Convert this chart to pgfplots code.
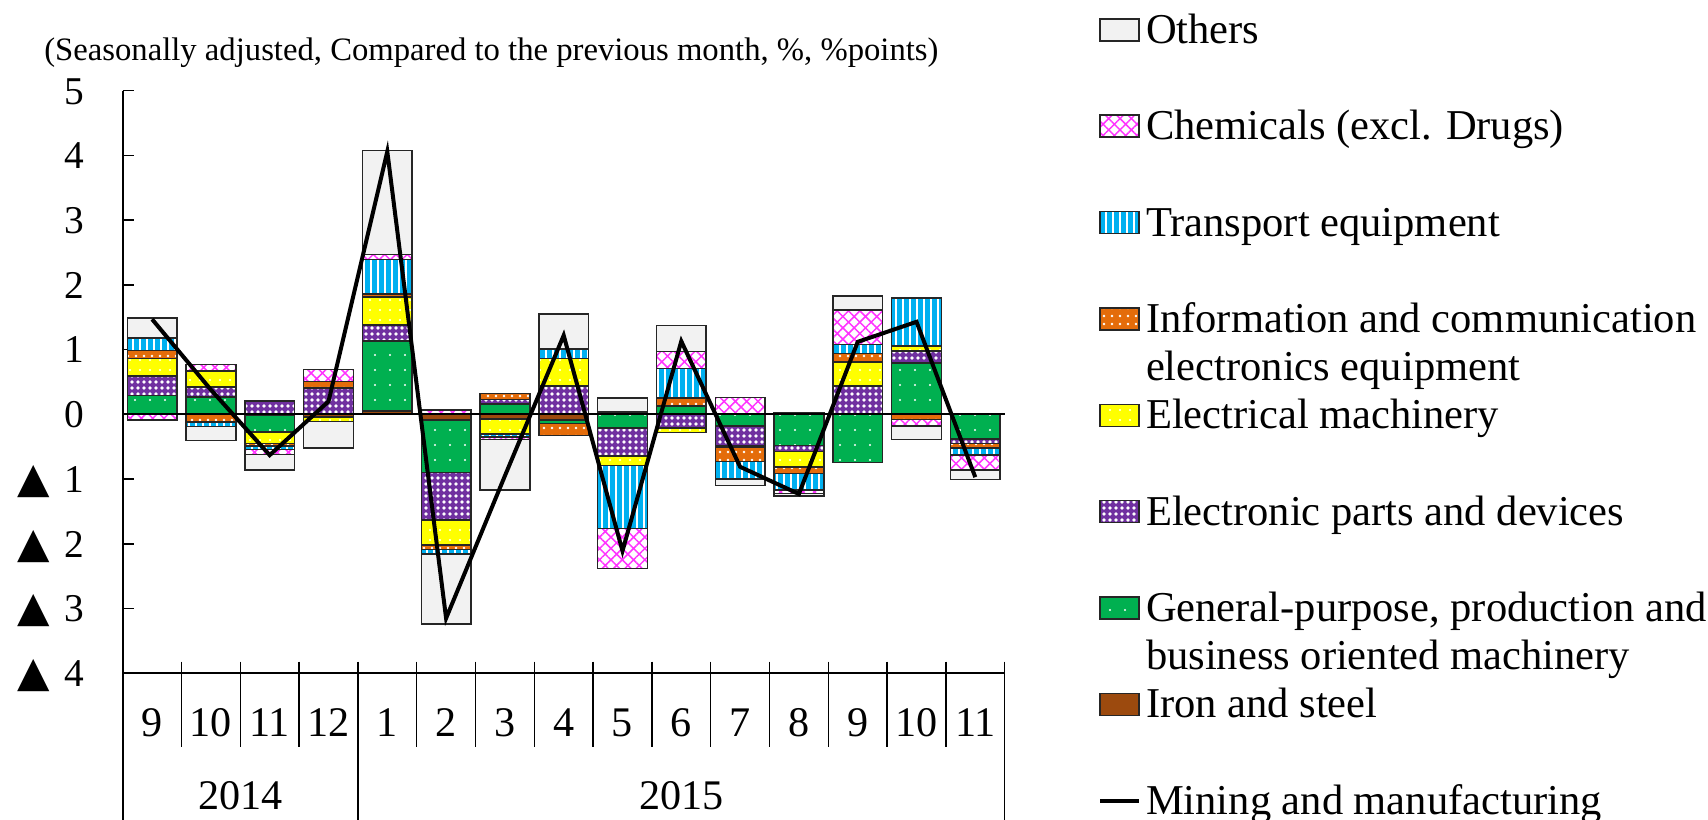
\documentclass[border=0pt]{standalone}
\usepackage{pgfplots}
\pgfplotsset{compat=1.18}
\usepackage{pgfplotstable}
\usepackage{fontspec}
\setmainfont{Liberation Serif}
\newfontfamily\trifont{DejaVu Sans}
\usetikzlibrary{patterns.meta}

\definecolor{cOth}{HTML}{F2F2F2}
\definecolor{cChem}{HTML}{FF33FF}
\definecolor{cTrans}{HTML}{00B0F0}
\definecolor{cInfo}{HTML}{E46C0A}
\definecolor{cElm}{HTML}{FFFF00}
\definecolor{cElec}{HTML}{7030A0}
\definecolor{cGen}{HTML}{00B050}
\definecolor{cIron}{HTML}{9C4A0E}

% positive parts of the contributions
\pgfplotstableread{
x  iron gen  elec elm  info trans chem oth
0  0    0.29 0.30 0.27 0.13 0.19  0    0.31
1  0    0.27 0.15 0.25 0    0     0.10 0
2  0    0    0.21 0    0    0     0    0
3  0    0    0.41 0    0.10 0     0.18 0
4  0.05 1.08 0.25 0.43 0.05 0.53  0.08 1.61
5  0    0    0    0    0    0     0.07 0
6  0    0.16 0.07 0    0.09 0     0    0
7  0    0    0.44 0.42 0    0.14  0.02 0.53
8  0.04 0    0    0    0    0     0    0.21
9  0    0.13 0    0    0.12 0.46  0.26 0.40
10 0    0    0    0    0    0     0.26 0
11 0.02 0    0    0    0    0     0    0
12 0    0    0.44 0.37 0.13 0.14  0.53 0.22
13 0    0.79 0.19 0.08 0    0.74  0    0
14 0    0    0    0    0    0     0    0
}\postab

% negative parts of the contributions
\pgfplotstableread{
x  iron  gen   elec  elm   info  trans chem  oth
0  0     0     0     0     0     0     -0.09 0
1  0     0     0     0     -0.12 -0.07 0     -0.21
2  -0.02 -0.25 0     -0.18 -0.04 -0.05 -0.08 -0.24
3  -0.04 0     0     -0.07 0     0     0     -0.41
4  0     0     0     0     0     0     0     0
5  -0.09 -0.81 -0.73 -0.39 -0.07 -0.07 0     -1.08
6  -0.07 0     0     -0.23 0     -0.05 -0.04 -0.78
7  -0.09 -0.05 0     0     -0.19 0     0     0
8  0     -0.21 -0.43 -0.15 0     -0.97 -0.62 0
9  0     0     -0.21 -0.07 0     0     0     0
10 0     -0.18 -0.31 -0.02 -0.22 -0.27 0     -0.10
11 0     -0.48 -0.09 -0.24 -0.10 -0.26 -0.05 -0.04
12 0     -0.74 0     0     0     0     0     0
13 0     0     0     0     -0.08 0     -0.10 -0.21
14 0     -0.38 -0.07 0     -0.07 -0.11 -0.23 -0.15
}\negtab

% Mining and manufacturing
\pgfplotstableread{
x  v
0  1.47
1  0.38
2  -0.63
3  0.20
4  4.06
5  -3.15
6  -0.95
7  1.22
8  -2.11
9  1.13
10 -0.81
11 -1.23
12 1.12
13 1.43
14 -0.97
}\linetab

\newcommand{\ntick}[1]{{\fontsize{12}{12}\trifont ▲}\hspace{1.4mm}#1}

\pgfplotsset{
  bord/.style={draw=black!85, line width=0.15mm},
  sIron/.style={bord, fill=cIron},
  sGen/.style={bord, fill=cGen, postaction={pattern={Dots[distance=1.5mm, radius=0.12mm]}, pattern color=white}},
  sElec/.style={bord, fill=cElec, postaction={pattern={Dots[distance=0.6mm, radius=0.18mm]}, pattern color=white}},
  sElm/.style={bord, fill=cElm, postaction={pattern={Dots[distance=1.0mm, radius=0.12mm]}, pattern color=white}},
  sInfo/.style={bord, fill=cInfo, postaction={pattern={Dots[distance=0.8mm, radius=0.13mm]}, pattern color=white}},
  sTrans/.style={bord, fill=cTrans, postaction={pattern={Lines[angle=90, distance=0.7mm, line width=0.28mm]}, pattern color=white}},
  sChem/.style={bord, fill=white, postaction={pattern={Hatch[angle=45, distance=0.8mm, line width=0.15mm]}, pattern color=cChem}},
  sOth/.style={bord, fill=cOth},
  myarea/.style={legend image code/.code={\draw[##1] (0mm,-1.1mm) rectangle (3.9mm,1.1mm);}},
  myline/.style={legend image code/.code={\draw[##1] (0mm,0mm) -- (3.9mm,0mm);}},
  baseax/.style={
    scale only axis, width=88.2mm, height=58.26mm,
    at={(12.27mm,14.67mm)}, anchor=south west,
    xmin=-0.5, xmax=14.5, ymin=-4, ymax=5, clip=false,
  },
  barax/.style={baseax, ybar stacked, bar width=4.97mm},
}

\begin{document}
\begin{tikzpicture}
% negative stacks
\begin{axis}[barax, hide axis]
\addplot[sIron]  table[x=x,y=iron]{\negtab};
\addplot[sGen]   table[x=x,y=gen]{\negtab};
\addplot[sElec]  table[x=x,y=elec]{\negtab};
\addplot[sElm]   table[x=x,y=elm]{\negtab};
\addplot[sInfo]  table[x=x,y=info]{\negtab};
\addplot[sTrans] table[x=x,y=trans]{\negtab};
\addplot[sChem]  table[x=x,y=chem]{\negtab};
\addplot[sOth]   table[x=x,y=oth]{\negtab};
\end{axis}
% positive stacks with the visible axes
\begin{axis}[barax,
  axis x line*=bottom, axis y line*=left,
  axis line style={line width=0.2mm, black},
  ytick={-4,-3,-2,-1,0,1,2,3,4,5},
  yticklabels={\ntick{4},\ntick{3},\ntick{2},\ntick{1},0,1,2,3,4,5},
  ytick align=inside, major tick length=1.17mm,
  ytick style={line width=0.15mm, black},
  yticklabel style={font=\fontsize{11.2}{13}\selectfont, anchor=base east, inner sep=0pt, xshift=-3.8mm, yshift=-1.335mm},
  xtick={0,1,2,3,4,5,6,7,8,9,10,11,12,13,14},
  xticklabels={9,10,11,12,1,2,3,4,5,6,7,8,9,10,11},
  xtick style={draw=none},
  xticklabel style={font=\fontsize{12}{14}\selectfont, anchor=base, inner sep=0pt, yshift=-6.29mm},
]
\addplot[sIron]  table[x=x,y=iron]{\postab};
\addplot[sGen]   table[x=x,y=gen]{\postab};
\addplot[sElec]  table[x=x,y=elec]{\postab};
\addplot[sElm]   table[x=x,y=elm]{\postab};
\addplot[sInfo]  table[x=x,y=info]{\postab};
\addplot[sTrans] table[x=x,y=trans]{\postab};
\addplot[sChem]  table[x=x,y=chem]{\postab};
\addplot[sOth]   table[x=x,y=oth]{\postab};
\end{axis}
% line, zero line, separators, legend
\begin{axis}[baseax, hide axis,
  legend cell align=left,
  legend style={at={(1.1058,1.1414)}, anchor=north west, draw=none, fill=none,
    inner sep=0pt, outer sep=0pt, row sep=5.335mm, column sep=0.5mm,
    font=\fontsize{12.1}{13.6}\selectfont,
    nodes={inner sep=0pt, text height=3.5mm, text depth=0.8mm}},
]
\draw[line width=0.2mm, black] (axis cs:-0.5,0) -- (axis cs:14.5,0);
\addplot[black, line width=0.4mm, sharp plot, mark=none, forget plot] table[x=x,y=v]{\linetab};
\pgfplotsinvokeforeach{0.5,1.5,2.5,4.5,5.5,6.5,7.5,8.5,9.5,10.5,11.5,12.5,13.5}{
  \draw[line width=0.15mm, black] ([yshift=1.17mm]axis cs:#1,-4) -- ([yshift=-7.34mm]axis cs:#1,-4);
}
\pgfplotsinvokeforeach{3.5,14.5}{
  \draw[line width=0.15mm, black] ([yshift=1.17mm]axis cs:#1,-4) -- ([yshift=-14.8mm]axis cs:#1,-4);
}
\draw[line width=0.2mm, black] (axis cs:-0.5,-4) -- ([yshift=-14.8mm]axis cs:-0.5,-4);
\node[anchor=base, inner sep=0pt, font=\fontsize{12}{14}\selectfont] at ([yshift=-13.67mm]axis cs:1.5,-4) {2014};
\node[anchor=base, inner sep=0pt, font=\fontsize{12}{14}\selectfont] at ([yshift=-13.67mm]axis cs:9,-4) {2015};
\addlegendimage{sOth, myarea}
\addlegendentry{Others}
\addlegendimage{sChem, myarea}
\addlegendentry{Chemicals (excl. Drugs)}
\addlegendimage{sTrans, myarea}
\addlegendentry{Transport equipment}
\addlegendimage{sInfo, myarea}
\addlegendentry{\begin{tabular}[t]{@{}l@{}}Information and communication\\electronics equipment\end{tabular}}
\addlegendimage{sElm, myarea}
\addlegendentry{Electrical machinery}
\addlegendimage{sElec, myarea}
\addlegendentry{Electronic parts and devices}
\addlegendimage{sGen, myarea}
\addlegendentry{\begin{tabular}[t]{@{}l@{}}General-purpose, production and\\business oriented machinery\end{tabular}}
\addlegendimage{sIron, myarea}
\addlegendentry{Iron and steel}
\addlegendimage{black, line width=0.4mm, myline}
\addlegendentry{Mining and manufacturing}
\end{axis}
\node[anchor=base west, inner sep=0pt, font=\fontsize{9.3}{11}\selectfont] at (4.36mm,75.9mm) {(Seasonally adjusted, Compared to the previous month, \%, \%points)};
\pgfresetboundingbox
\useasboundingbox (0,0) rectangle (170.8mm,82mm);
\end{tikzpicture}
\end{document}
